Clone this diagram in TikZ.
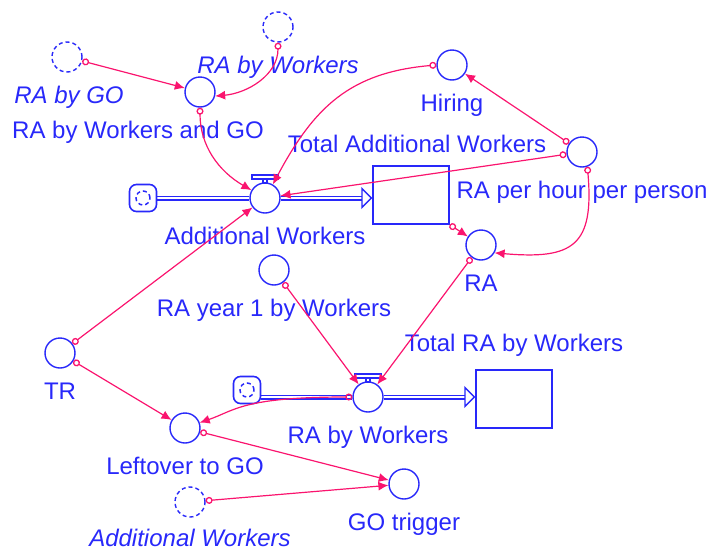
\documentclass[tikz,border=0pt]{standalone}
\usepackage{fontspec}
\setmainfont{Liberation Sans}
\usepackage{tikz}
\usetikzlibrary{positioning, arrows.meta, backgrounds}

\definecolor{vblue}{RGB}{40,40,250}
\definecolor{vpink}{RGB}{250,20,110}

\begin{document}
\begin{tikzpicture}[
  x=1pt, y=-1pt,
  font=\fontsize{24}{28}\selectfont,
  node distance=13pt,
  aux/.style={circle, draw=vblue, line width=1.4pt, fill=white,
    minimum size=30pt, inner sep=0pt},
  ghost/.style={aux, dash pattern=on 4pt off 3pt},
  valve/.style={aux},
  stock/.style={draw=vblue, line width=1.4pt, fill=white,
    minimum width=76pt, minimum height=58pt, inner sep=0pt},
  cloudy/.style={draw=vblue, line width=1.6pt, rounded corners=7pt,
    minimum size=27pt, inner sep=0pt,
    path picture={\draw[vblue, line width=1.5pt, dash pattern=on 4pt off 3pt]
      (path picture bounding box.center) circle (7pt);}},
  lbl/.style={text=vblue, inner sep=1pt, text height=17pt, text depth=5pt},
  glbl/.style={lbl, font=\fontsize{24}{28}\selectfont\itshape},
  pipe/.style={draw=vblue, line width=1.4pt, double=white, double distance=2.2pt},
  pipetip/.style={-{Triangle[open, length=11pt, width=22pt, line width'=1.4pt]}},
  link/.style={vpink, line width=1.2pt,
    {Circle[open, length=7pt, width=7pt, line width'=1.3pt]}-{Latex[length=10pt, width=9pt]}},
]
  \useasboundingbox (0,0) rectangle (712,552);

  % Upper flow
  \node[ghost] (gRAGO) at (67,57) {};
  \node[glbl, below=of gRAGO, xshift=2pt] (lRAGO) {RA by GO};
  \node[ghost] (gRAW) at (278,27) {};
  \node[glbl, below=of gRAW] (lRAW) {RA by Workers};
  \node[aux] (aRAWGO) at (200,92) {};
  \node[lbl, below=of aRAWGO, xshift=-62pt] (lRAWGO) {RA by Workers and GO};
  \node[cloudy] (cAW) at (143,198) {};
  \node[valve] (vAW) at (265,198) {};
  \node[lbl, below=of vAW] (lAW) {Additional Workers};
  \node[stock] (sTAW) at (411,195) {};
  \node[lbl, above=7pt of sTAW, xshift=6pt] (lTAW) {Total Additional Workers};
  \node[aux] (aHir) at (452,65) {};
  \node[lbl, below=of aHir] (lHir) {Hiring};
  \node[aux] (aRPH) at (582,152) {};
  \node[lbl, below=of aRPH] (lRPH) {RA per hour per person};
  \node[aux] (aRA) at (481,245) {};
  \node[lbl, below=of aRA] (lRA) {RA};

  % Lower flow
  \node[aux] (aRY1) at (274,270) {};
  \node[lbl, below=of aRY1] (lRY1) {RA year 1 by Workers};
  \node[cloudy] (cRW) at (247,390) {};
  \node[valve] (vRW) at (368,397) {};
  \node[lbl, below=of vRW] (lRW) {RA by Workers};
  \node[stock] (sTRW) at (514,399) {};
  \node[lbl, above=12pt of sTRW] (lTRW) {Total RA by Workers};
  \node[aux] (aTR) at (60,353) {};
  \node[lbl, below=of aTR] (lTR) {TR};
  \node[aux] (aLGO) at (185,428) {};
  \node[lbl, below=of aLGO] (lLGO) {Leftover to GO};
  \node[aux] (aGOT) at (404,484) {};
  \node[lbl, below=of aGOT] (lGOT) {GO trigger};
  \node[ghost] (gAW) at (190,502) {};
  \node[glbl, below=11pt of gAW] (lgAW) {Additional Workers};

  % Pipes
  \begin{scope}[on background layer]
    \draw[pipe] (cAW) -- (vAW);
    \draw[pipe, pipetip] (vAW) -- (vAW -| sTAW.west);
    \draw[pipe] (cRW.east |- vRW) -- (vRW);
    \draw[pipe, pipetip] (vRW) -- (vRW -| sTRW.west);
  \end{scope}
  \foreach \v in {vAW, vRW} {
    \draw[vblue, line width=1.2pt, fill=white]
      ([xshift=-13pt, yshift=19pt]\v.center) rectangle ([xshift=13pt, yshift=23pt]\v.center);
    \draw[vblue, line width=1.2pt]
      ([xshift=-2pt, yshift=15pt]\v.center) rectangle ([xshift=2pt, yshift=19pt]\v.center);
  }

  % Links
  \foreach \a/\b in {gRAGO/aRAWGO, aRPH/aHir, aRPH/vAW, aRA/vRW, aRY1/vRW,
                     aTR/vAW, aTR/aLGO, aLGO/aGOT, gAW/aGOT}
    \draw[link] (\a) -- (\b);
  \draw[link] (sTAW.south east) -- (aRA);
  \draw[link] (gRAW.south) to[out=-90, in=5] (aRAWGO.-15);
  \draw[link] (aRAWGO.south) to[out=-90, in=150] (vAW.150);
  \draw[link] (aHir.west) to[out=185, in=62, looseness=1.1] (vAW.60);
  \draw[link] (aRPH.-70) to[out=-85, in=-5, looseness=1.6] (aRA.-30);
  \draw[link] (vRW.west) .. controls +(-110,0) and +(35,-12) .. (aLGO.20);
\end{tikzpicture}
\end{document}
